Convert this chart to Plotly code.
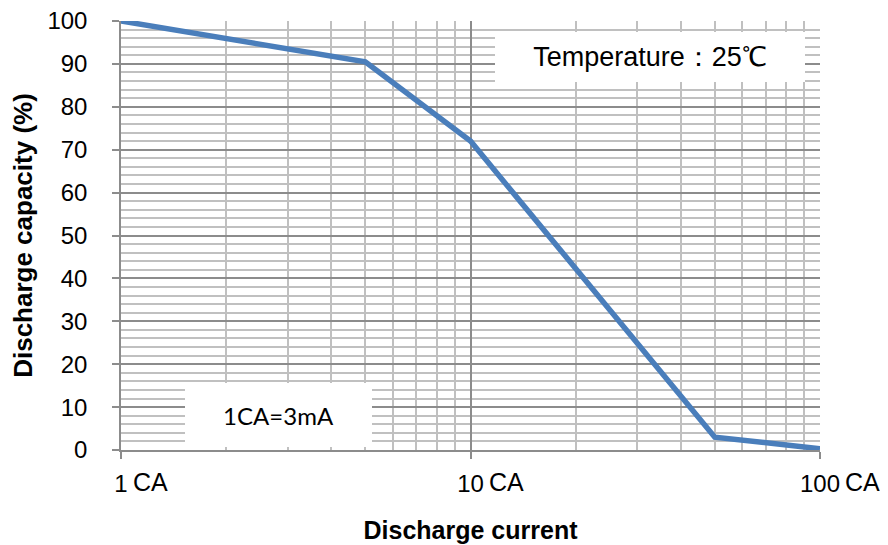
import numpy as np
import plotly.graph_objects as go

# Data
current_ca = [1, 5, 10, 50, 100]
capacity_pct = [100, 90.5, 72, 3, 0.3]

x_tick_vals = [1, 10, 100]
x_tick_text = ["1", "10", "100"]
x_unit = "CA"
x_minor_vals = [2, 3, 4, 5, 6, 7, 8, 9, 20, 30, 40, 50, 60, 70, 80, 90]
y_tick_vals = [0, 10, 20, 30, 40, 50, 60, 70, 80, 90, 100]

temp_note = "Temperature：25℃"
ca_note = "1CA=3mA"

FONT = "Liberation Sans, Arial, sans-serif"
MAJOR = "#8c8c8c"
MINOR = "#c0c0c0"

# the page body has an 8px margin, so the figure is drawn 8px in from the top-left
W, H = 880, 537
ML, MT, MR, MB = 113, 13, 68, 95
PW, PH = W - ML - MR, H - MT - MB

fig = go.Figure()
fig.add_trace(go.Scatter(
    x=current_ca, y=capacity_pct, mode="lines",
    line=dict(color="#4a7ebb", width=5.5),
    showlegend=False, hoverinfo="skip",
))

fig.update_layout(
    width=W, height=H,
    margin=dict(l=ML, r=MR, t=MT, b=MB),
    paper_bgcolor="white", plot_bgcolor="white",
    font=dict(family=FONT, color="black"),
    showlegend=False,
)

fig.update_xaxes(
    type="log", range=[0, 2], automargin=False,
    tickmode="array", tickvals=x_tick_vals, ticktext=x_tick_text,
    tickfont=dict(size=24, family=FONT, color="black"),
    ticks="outside", ticklen=7, tickwidth=1.5, tickcolor=MAJOR,
    ticklabelstandoff=4, ticklabeloverflow="allow",
    showgrid=True, gridcolor=MAJOR, gridwidth=1.5,
    minor=dict(tickmode="array", tickvals=x_minor_vals, showgrid=True,
               gridcolor=MINOR, gridwidth=1.5, ticks=""),
    showline=True, linecolor=MAJOR, linewidth=1.5,
    zeroline=False,
    title=dict(text="<b>Discharge current</b>",
               font=dict(size=25, family=FONT, color="black"), standoff=26),
)

fig.update_yaxes(
    range=[0, 100], automargin=False,
    tickmode="array", tickvals=y_tick_vals,
    tickfont=dict(size=24, family=FONT, color="black"),
    ticks="outside", ticklen=7, tickwidth=1.5, tickcolor=MAJOR,
    ticklabelstandoff=20, ticklabeloverflow="allow",
    showgrid=True, gridcolor=MAJOR, gridwidth=1.5,
    minor=dict(dtick=2, showgrid=True, gridcolor=MINOR, gridwidth=1.5, ticks=""),
    showline=True, linecolor=MAJOR, linewidth=1.5,
    zeroline=False,
    title=dict(text="<b>Discharge capacity (%)</b>",
               font=dict(size=26, family=FONT, color="black"), standoff=14),
)

# "CA" unit after each numeric x tick label
for v in x_tick_vals:
    fig.add_annotation(
        x=np.log10(v), y=0, xref="x", yref="y",
        text=x_unit, showarrow=False,
        xanchor="left", yanchor="top",
        xshift=3 + 6.7 * len(str(v)), yshift=-16,
        font=dict(size=25, family=FONT, color="black"),
    )

# boxes: positions in page pixels converted to paper fractions
fig.add_annotation(
    x=(650 - 121) / PW, y=(450 - 57) / PH, xref="paper", yref="paper",
    xanchor="center", yanchor="middle",
    text=temp_note, showarrow=False,
    width=310, height=50, bgcolor="white", borderpad=0, borderwidth=0,
    font=dict(size=27, family=FONT, color="black"),
)

fig.add_annotation(
    x=(278.5 - 121) / PW, y=(450 - 415) / PH, xref="paper", yref="paper",
    xanchor="center", yanchor="middle",
    text=ca_note, showarrow=False,
    width=187, height=64, bgcolor="white", borderpad=0, borderwidth=0,
    font=dict(size=24, family="Lato, Carlito, sans-serif", color="black"),
)

fig.write_html("out.html")
